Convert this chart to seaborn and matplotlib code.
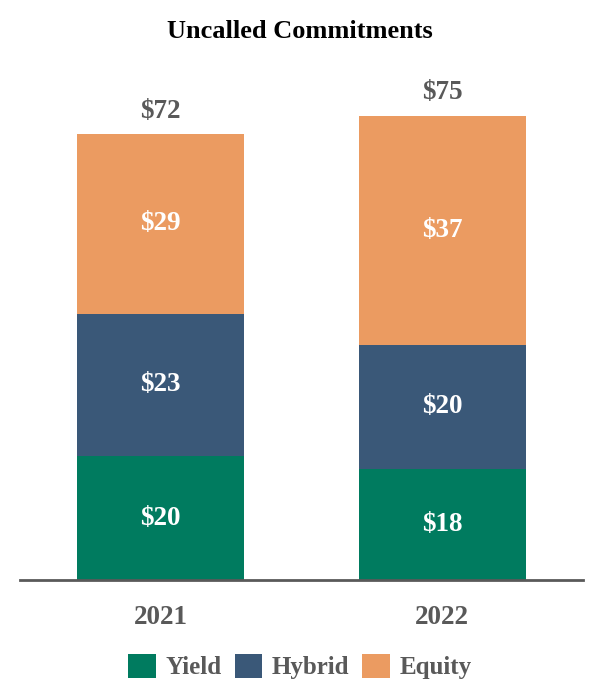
import matplotlib
matplotlib.use("Agg")
import matplotlib.pyplot as plt
import seaborn as sns
import pandas as pd
from matplotlib.patches import Patch

years = ["2021", "2022"]
yield_vals = [20, 18]
hybrid_vals = [23, 20]
equity_vals = [29, 37]
totals = [72, 75]
series_names = ["Yield", "Hybrid", "Equity"]
colors = ["#007B5F", "#3A5878", "#EB9B61"]

sns.set_theme(style="white")
plt.rcParams["font.family"] = ["Liberation Serif", "DejaVu Serif"]
plt.rcParams["font.weight"] = "bold"

fig = plt.figure(figsize=(6, 7), dpi=100)
ax = fig.add_axes([0.033, 0.1714, 0.939, 0.743])

df = pd.DataFrame({"year": years, "Yield": yield_vals, "Hybrid": hybrid_vals, "Equity": equity_vals})
bottoms = [0] * len(years)
for name, col in zip(series_names, colors):
    sns.barplot(data=df, x="year", y=name, color=col, width=0.594, bottom=bottoms,
                ax=ax, saturation=1, linewidth=0)
    for i, v in enumerate(df[name]):
        ax.text(i, bottoms[i] + v / 2, f"${v}", ha="center", va="center",
                color="white", fontsize=19.5, fontweight="bold")
    bottoms = [b + v for b, v in zip(bottoms, df[name])]

for i, t in enumerate(totals):
    ax.text(i, t + 1.7, f"${t}", ha="center", va="bottom", color="#595959",
            fontsize=19.5, fontweight="bold")

ax.set_xlim(-0.5, 1.5)
ax.set_ylim(0, 84)
ax.set_xlabel("")
ax.set_ylabel("")
ax.set_yticks([])
for s in ["top", "right", "left"]:
    ax.spines[s].set_visible(False)
ax.spines["bottom"].set_color("#595959")
ax.spines["bottom"].set_linewidth(2)
ax.tick_params(axis="x", length=0, pad=18, labelsize=19.5, labelcolor="#595959")
for lab in ax.get_xticklabels():
    lab.set_fontweight("bold")

fig.text(0.5, 0.955, "Uncalled Commitments", ha="center", va="center",
         fontsize=19, fontweight="bold", color="black")

handles = [Patch(facecolor=c, edgecolor="none") for c in colors]
leg = fig.legend(handles, series_names, loc="center", bbox_to_anchor=(0.5, 0.048), ncol=3,
                 frameon=False, fontsize=18, handlelength=1.1, handleheight=1.1,
                 handletextpad=0.4, columnspacing=0.5)
for t in leg.get_texts():
    t.set_color("#595959")
    t.set_fontweight("bold")

fig.savefig("out.png", dpi=100)
